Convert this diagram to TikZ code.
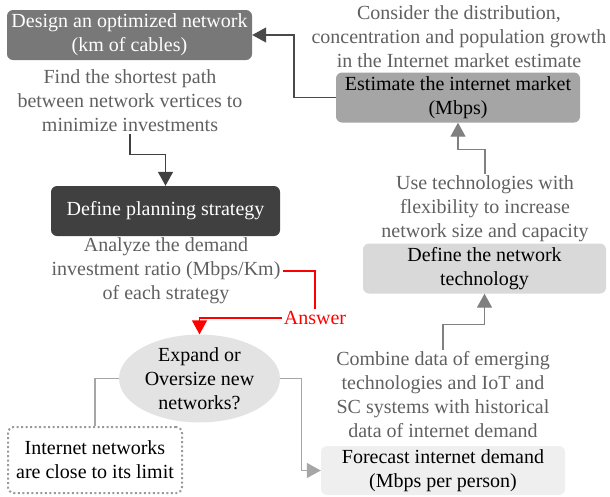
\documentclass[tikz,border=0pt]{standalone}
\usepackage{fontspec}
\setmainfont{Liberation Serif}
\usetikzlibrary{arrows.meta,shapes.geometric}
\definecolor{cdesign}{HTML}{787878}
\definecolor{cestim}{HTML}{A5A5A5}
\definecolor{ctech}{HTML}{D9D9D9}
\definecolor{cfore}{HTML}{EFEFEF}
\definecolor{cell}{HTML}{E3E3E3}
\definecolor{cplan}{HTML}{404040}
\definecolor{cnote}{HTML}{606060}
\definecolor{cdot}{HTML}{999999}
\definecolor{lndark}{HTML}{4A4A4A}
\definecolor{lnmid}{HTML}{808080}
\definecolor{lnlight}{HTML}{A6A6A6}
\begin{document}
\begin{tikzpicture}[x=1pt,y=-1pt,
  txt/.style={font=\fontsize{20}{24}\selectfont, align=center},
  box/.style={txt, rounded corners=6pt, minimum height=50pt, inner sep=0pt},
  note/.style={txt, text=cnote, inner sep=2pt},
  conn/.style={line width=1.4pt},
  arr/.style={conn, -{Triangle[length=14pt,width=15pt]}}]
\useasboundingbox (0,0) rectangle (610,496);
\node[box, fill=cdesign, text=white, minimum width=245pt] (design) at (129.5,35) {Design an optimized network\\(km of cables)};
\node[note] (n1) at (130,101) {Find the shortest path\\between network vertices to\\minimize investments};
\node[note] (n2) at (459,37) {Consider the distribution,\\concentration and population growth\\in the Internet market estimate};
\node[box, fill=cestim, minimum width=244pt] (estimate) at (458,97.5) {Estimate the internet market\\(Mbps)};
\node[box, fill=cplan, text=white, minimum width=229pt] (plan) at (165.5,211) {Define planning strategy};
\node[note] (n5) at (166,271) {Analyze the demand\\investment ratio (Mbps/Km)\\of each strategy};
\node[note] (n3) at (485,209) {Use technologies with\\flexibility to increase\\network size and capacity};
\node[box, fill=ctech, minimum width=243pt] (tech) at (484.5,268.5) {Define the network\\technology};
\node[txt, text=red, inner sep=2pt] (ans) at (315,318) {Answer};
\node[txt, ellipse, fill=cell, minimum width=161pt, minimum height=81pt, inner sep=0pt] (q) at (199.5,378.5) {Expand or\\Oversize new\\networks?};
\node[note] (n4) at (443,395) {Combine data of emerging\\technologies and IoT and\\SC systems with historical\\data of internet demand};
\node[box, fill=cfore, minimum width=244pt, minimum height=49pt] (forecast) at (443,470.5) {Forecast internet demand\\(Mbps per person)};
\node[box, draw=cdot, line width=2pt, dash pattern=on 2pt off 2.5pt, minimum width=174pt, minimum height=66pt] (limit) at (95,460) {Internet networks\\are close to its limit};
% connectors
\draw[arr, lndark] (estimate.west) -- ++(-42,0) |- (design.east);
\draw[arr, cplan] (n1.south) -- ++(0,20) -| (plan.north);
\draw[arr, lnmid] (n3.north) -- ++(0,-24) -| (estimate.south);
\draw[arr, lnmid] (n4.north) -- ++(0,-25) -| (tech.south);
\draw[conn, red] (n5.east) -| (ans.north);
\draw[arr, red] (ans.west) -| (q.north);
\draw[arr, lnlight] (q.east) -- ++(21,0) |- (forecast.west);
\draw[conn, lnlight] (q.west) -- ++(-23,0) -| (limit.north);
\end{tikzpicture}
\end{document}
